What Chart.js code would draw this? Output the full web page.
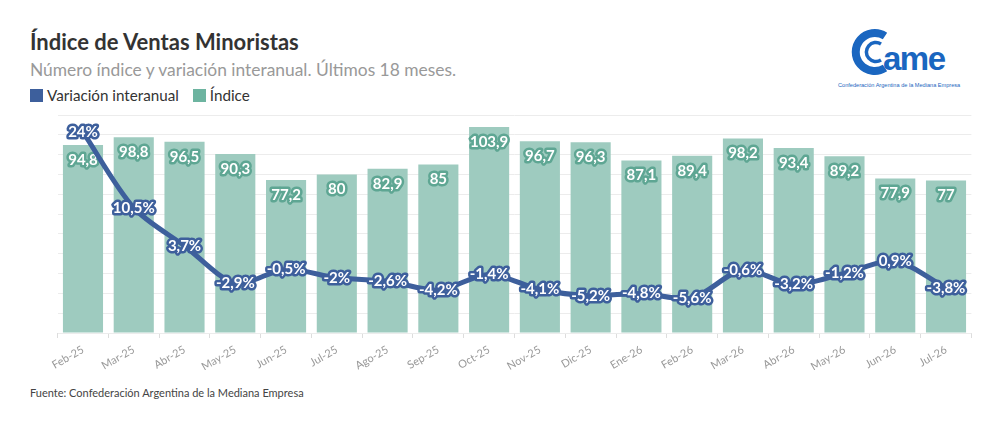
<!DOCTYPE html>
<html>
<head>
<meta charset="utf-8">
<script src="https://cdn.jsdelivr.net/npm/chart.js@4.4.1/dist/chart.umd.min.js"></script>
<style>
  html,body{margin:0;padding:0;background:#fff;width:1000px;height:431px;overflow:hidden;font-family:Lato,"Noto Sans",sans-serif;}
  #title{position:absolute;left:30px;top:28px;font-size:22px;font-weight:700;color:#333;}
  #subtitle{position:absolute;left:30px;top:59px;font-size:17.4px;color:#999;}
  #legend{position:absolute;left:30px;top:86px;font-size:15.2px;color:#333;display:flex;align-items:center;}
  .sw{display:inline-block;width:13px;height:13px;margin-right:4px;}
  #footer{position:absolute;left:30px;top:386px;font-size:11px;color:#444;}
  #wrap{position:absolute;left:0;top:110px;width:1000px;height:260px;}
  #logo{position:absolute;left:835px;top:28px;}
</style>
</head>
<body>
<div id="title">Índice de Ventas Minoristas</div>
<div id="subtitle">Número índice y variación interanual. Últimos 18 meses.</div>
<div id="legend"><span class="sw" style="background:#3d5f9c"></span><span style="margin-right:14px">Variación interanual</span><span class="sw" style="background:#6db4a0"></span><span>Índice</span></div>
<svg id="logo" width="140" height="64" viewBox="0 0 140 64">
  <path d="M 50 8 A 19 19 0 1 0 50 40" fill="none" stroke="#1a66c0" stroke-width="8"/>
  <path d="M 46 16 A 9.5 9.5 0 1 0 46 32" fill="none" stroke="#1a66c0" stroke-width="3.5"/>
  <text x="48" y="42" font-family="Liberation Sans, Arial" font-weight="700" font-size="33" fill="#1a66c0" letter-spacing="-1.5">ame</text>
  <text x="3" y="59" font-family="Liberation Sans, Arial" font-size="5.6" fill="#1a66c0">Confederación Argentina de la Mediana Empresa</text>
</svg>
<div id="wrap"><canvas id="c"></canvas></div>
<div id="footer">Fuente: Confederación Argentina de la Mediana Empresa</div>
<script>
const categories = ["Feb-25","Mar-25","Abr-25","May-25","Jun-25","Jul-25","Ago-25","Sep-25","Oct-25","Nov-25","Dic-25","Ene-26","Feb-26","Mar-26","Abr-26","May-26","Jun-26","Jul-26"];
const indiceValues = [94.8,98.8,96.5,90.3,77.2,80,82.9,85,103.9,96.7,96.3,87.1,89.4,98.2,93.4,89.2,77.9,77];
const variacionValues = [24,10.5,3.7,-2.9,-0.5,-2,-2.6,-4.2,-1.4,-4.1,-5.2,-4.8,-5.6,-0.6,-3.2,-1.2,0.9,-3.8];

const fmt = v => String(v).replace('.', ',');

const labelPlugin = {
  id: 'valueLabels',
  afterDatasetDraw(chart, args) {
    const ctx = chart.ctx;
    const ds = chart.data.datasets[args.index];
    const meta = args.meta;
    ctx.save();
    ctx.font = '700 15px Lato, "Noto Sans", sans-serif';
    ctx.textAlign = 'center';
    ctx.textBaseline = 'middle';
    ctx.lineJoin = 'round';
    ctx.lineWidth = 5;
    meta.data.forEach((el, i) => {
      const v = ds.data[i];
      let txt, x, y;
      if (ds.type === 'bar') {
        txt = fmt(v); x = el.x; y = el.y + 15;
        ctx.strokeStyle = '#5ea693';
      } else {
        txt = fmt(v) + '%'; x = el.x; y = el.y;
        ctx.strokeStyle = '#3d5f9c';
      }
      ctx.strokeText(txt, x, y);
      ctx.fillStyle = '#ffffff';
      ctx.fillText(txt, x, y);
    });
    ctx.restore();
  }
};

new Chart(document.getElementById('c'), {
  data: {
    labels: categories,
    datasets: [
      {
        type: 'line', label: 'Variación interanual', data: variacionValues, yAxisID: 'yVar',
        borderColor: '#3d5f9c', borderWidth: 5, pointRadius: 0, tension: 0.3, order: 0,
        borderCapStyle: 'round', borderJoinStyle: 'round'
      },
      {
        type: 'bar', label: 'Índice', data: indiceValues, yAxisID: 'yIdx',
        backgroundColor: '#9ecbbf', categoryPercentage: 1, barPercentage: 0.79, order: 1
      }
    ]
  },
  options: {
    responsive: true, maintainAspectRatio: false, animation: false,
    layout: { padding: { top: 5, left: 57.6, right: 28.6, bottom: 0 } },
    plugins: { legend: { display: false }, tooltip: { enabled: false }, title: { display: false } },
    scales: {
      x: {
        grid: { drawOnChartArea: false, color: '#dddddd', tickLength: 5, drawTicks: true },
        border: { display: false },
        ticks: { autoSkip: false, minRotation: 30, maxRotation: 30, color: '#999', font: { family: 'Lato, "Noto Sans", sans-serif', size: 11 }, padding: 5 },
        afterFit(s) { s.height = 37; s.paddingLeft = 0; s.paddingRight = 0; }
      },
      yIdx: {
        position: 'left', min: 0, max: 110,
        ticks: { display: false, stepSize: 10 },
        grid: { color: '#ececec', drawTicks: false },
        border: { display: false },
        afterFit(s) { s.width = 0; }
      },
      yVar: {
        position: 'right', min: -11.86, max: 27.07, display: false
      }
    }
  },
  plugins: [labelPlugin]
});
</script>
</body>
</html>
